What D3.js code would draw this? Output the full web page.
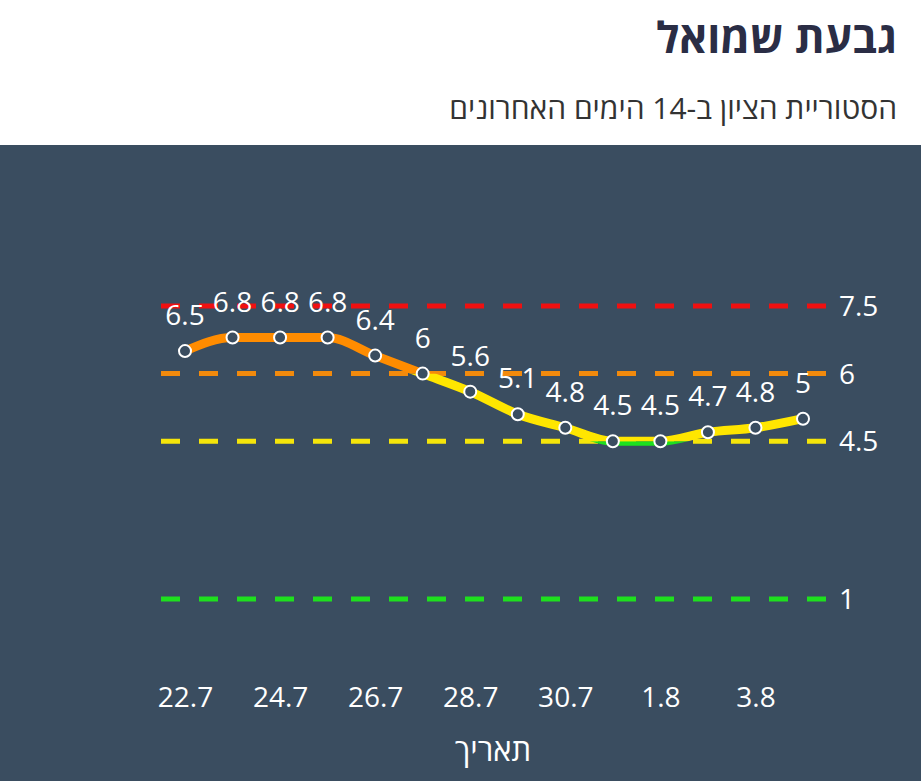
<!DOCTYPE html>
<html>
<head>
<meta charset="utf-8">
<script src="https://cdn.jsdelivr.net/npm/d3@7"></script>
<style>
  html, body { margin: 0; padding: 0; background: #ffffff; }
  svg { display: block; font-family: "Open Sans", "Noto Sans", "DejaVu Sans", sans-serif; }
</style>
</head>
<body>
<svg id="chart" width="924" height="781"></svg>
<script>
const title = "גבעת שמואל";
const subtitle = "הסטוריית הציון ב-14 הימים האחרונים";
const axisTitle = "תאריך";
const dates = ["22.7","23.7","24.7","25.7","26.7","27.7","28.7","29.7","30.7","31.7","1.8","2.8","3.8","4.8"];
const values = [6.5, 6.8, 6.8, 6.8, 6.4, 6, 5.6, 5.1, 4.8, 4.5, 4.5, 4.7, 4.8, 5];
const tickLabels = ["22.7","24.7","26.7","28.7","30.7","1.8","3.8"];
const thresholds = [7.5, 6, 4.5, 1];
const thresholdColors = ["#f01010", "#f28a0c", "#f5e50a", "#1ee01e"];
const zoneColors = ["#1ee01e", "#ffe600", "#ff8c00", "#f01010"]; // below 4.5, 4.5-6, 6-7.5, above 7.5

const svg = d3.select("#chart");
const W = 924, H = 781;

// title & subtitle
svg.append("text").attr("x", 897).attr("y", 53)
  .attr("direction", "rtl").attr("text-anchor", "start")
  .attr("font-size", 43).attr("font-weight", 700).attr("fill", "#2a2d45")
  .text(title);
svg.append("text").attr("x", 897).attr("y", 119)
  .attr("direction", "rtl").attr("text-anchor", "start")
  .attr("font-size", 30).attr("fill", "#333333")
  .text(subtitle);

// panel
svg.append("rect").attr("x", 0).attr("y", 145).attr("width", 921).attr("height", H - 145)
  .attr("fill", "#3a4d60");

const x = d3.scalePoint().domain(dates).range([185, 803]);
const y = d3.scaleLinear().domain([1, 7.5]).range([599, 306]);

// threshold lines
const thrG = svg.append("g");
thresholds.forEach((t, i) => {
  thrG.append("line").attr("x1", 161).attr("x2", 828)
    .attr("y1", y(t)).attr("y2", y(t))
    .attr("stroke", thresholdColors[i]).attr("stroke-width", 5)
    .attr("stroke-dasharray", "19,19");
  thrG.append("text").attr("x", 839).attr("y", y(t) + 10)
    .attr("font-size", 28).attr("fill", "#ffffff")
    .text(t);
});

// zone clip paths
const defs = svg.append("defs");
const zoneBounds = [[1 - 10, 4.5], [4.5, 6], [6, 7.5], [7.5, 20]];
zoneBounds.forEach((b, i) => {
  const top = y(b[1]), bot = y(b[0]);
  defs.append("clipPath").attr("id", "zone" + i)
    .append("rect").attr("x", 0).attr("width", W)
    .attr("y", top).attr("height", bot - top);
});

const data = dates.map((d, i) => ({ d, v: values[i] }));
const line = d3.line().x(p => x(p.d)).y(p => y(p.v)).curve(d3.curveMonotoneX);
zoneBounds.forEach((b, i) => {
  svg.append("path").datum(data)
    .attr("d", line)
    .attr("fill", "none")
    .attr("stroke", zoneColors[i])
    .attr("stroke-width", 9)
    .attr("stroke-linejoin", "round")
    .attr("clip-path", "url(#zone" + i + ")");
});

// markers
svg.append("g").selectAll("circle").data(data).join("circle")
  .attr("cx", p => x(p.d)).attr("cy", p => y(p.v)).attr("r", 6)
  .attr("fill", "#3a4d60").attr("stroke", "#ffffff").attr("stroke-width", 2);

// data labels
svg.append("g").selectAll("text").data(data).join("text")
  .attr("x", p => x(p.d)).attr("y", p => y(p.v) - 26)
  .attr("text-anchor", "middle").attr("font-size", 28).attr("fill", "#ffffff")
  .text(p => p.v);

// x axis
const xAxis = d3.axisBottom(x).tickValues(tickLabels).tickSize(0).tickPadding(0);
const axG = svg.append("g").attr("transform", "translate(0,687)").call(xAxis);
axG.select(".domain").remove();
axG.selectAll("text").attr("font-size", 28).attr("fill", "#ffffff")
  .attr("font-family", "\"Open Sans\", \"Noto Sans\", sans-serif").attr("dy", "0.71em");

svg.append("text").attr("x", 493).attr("y", 761)
  .attr("text-anchor", "middle").attr("direction", "rtl")
  .attr("font-size", 31).attr("fill", "#ffffff")
  .text(axisTitle);
</script>
</body>
</html>
